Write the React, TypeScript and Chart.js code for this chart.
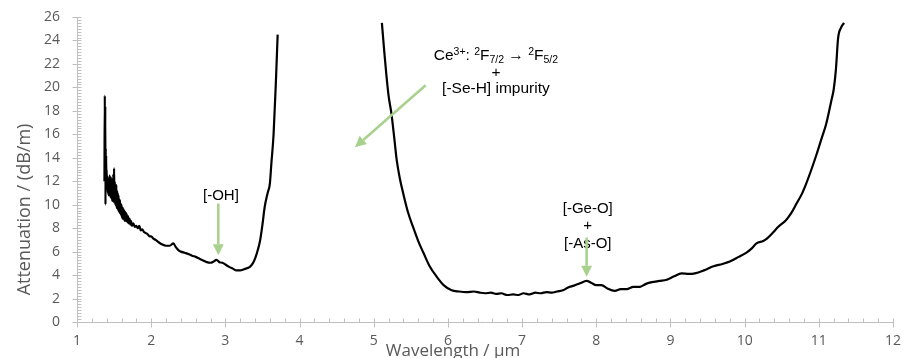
import React, { useEffect, useRef } from "react";
import { Chart, registerables } from "chart.js";

Chart.register(...registerables);

// ---- Data ----
const wavelength1 = [
  1.37, 1.375, 1.378, 1.381, 1.384, 1.387, 1.39, 1.393, 1.396, 1.4, 1.405, 1.41, 1.415, 1.42, 1.425,
  1.43, 1.435, 1.44, 1.445, 1.45, 1.455, 1.46, 1.465, 1.47, 1.475, 1.48, 1.485, 1.49, 1.495, 1.5,
  1.505, 1.51, 1.515, 1.52, 1.525, 1.53, 1.535, 1.54, 1.545, 1.55, 1.555, 1.56, 1.565, 1.57, 1.575,
  1.58, 1.585, 1.59, 1.595, 1.6, 1.605, 1.61, 1.615, 1.62, 1.625, 1.63, 1.635, 1.64, 1.645, 1.65,
  1.655, 1.66, 1.665, 1.67, 1.68, 1.69, 1.7, 1.71, 1.72, 1.73, 1.74, 1.76, 1.78, 1.8,
  1.82, 1.84, 1.86, 1.88, 1.9, 1.92, 1.95, 1.98, 2.0, 2.03, 2.06, 2.1, 2.15, 2.2,
  2.25, 2.3, 2.33, 2.37, 2.4, 2.45, 2.5, 2.55, 2.6, 2.65, 2.7, 2.75, 2.8, 2.84, 2.88, 2.92, 2.96,
  3.0, 3.05, 3.1, 3.15, 3.2, 3.25, 3.3, 3.33, 3.37, 3.4, 3.44, 3.47, 3.5, 3.53, 3.57, 3.6, 3.62,
  3.65, 3.68, 3.705,
];
const attenuation1 = [
  12.0, 19.3, 12.4, 18.4, 10.0, 14.8, 11.6, 14.2, 11.9, 13.0, 11.3, 12.4, 11.0, 12.2, 10.8,
  12.0, 10.9, 12.5, 10.7, 12.1, 10.6, 12.3, 10.5, 11.9, 10.3, 12.2, 10.4, 12.6, 10.2, 13.1,
  10.4, 12.0, 10.0, 11.6, 9.9, 11.7, 9.7, 11.2, 9.8, 11.0, 9.5, 10.8, 9.4, 10.5, 9.3,
  10.4, 9.2, 10.1, 9.1, 10.0, 8.9, 9.8, 8.8, 9.7, 8.9, 9.6, 8.7, 9.5, 8.6, 9.4,
  8.7, 9.3, 8.6, 9.2, 8.5, 9.0, 8.4, 8.8, 8.3, 8.6, 8.2, 8.4, 8.1, 8.2,
  8.0, 8.2, 7.8, 7.9, 7.7, 7.6, 7.5, 7.3, 7.3, 7.1, 7.0, 6.8, 6.6, 6.5,
  6.5, 6.7, 6.4, 6.1, 6.0, 5.9, 5.8, 5.65, 5.55, 5.4, 5.25, 5.1, 5.05, 5.15, 5.3, 5.1, 5.05,
  4.9, 4.7, 4.55, 4.4, 4.4, 4.5, 4.6, 4.7, 5.0, 5.4, 6.2, 7.0, 8.3, 9.8, 11.0, 11.8, 13.5,
  16.0, 20.3, 24.5,
];
const wavelength2 = [
  5.11, 5.14, 5.17, 5.2, 5.24, 5.28, 5.31, 5.35, 5.4, 5.46, 5.53, 5.6, 5.67, 5.75, 5.85, 5.95,
  6.05, 6.15, 6.25, 6.35, 6.43, 6.5, 6.58, 6.65, 6.72, 6.8, 6.88, 6.95, 7.02, 7.1, 7.18, 7.25,
  7.33, 7.4, 7.47, 7.55, 7.62, 7.7, 7.78, 7.87, 7.93, 8.0, 8.07, 8.15, 8.25, 8.33, 8.41, 8.5,
  8.59, 8.67, 8.75, 8.85, 8.95, 9.05, 9.15, 9.25, 9.33, 9.45, 9.58, 9.7, 9.8, 9.92, 10.02, 10.1,
  10.16, 10.25, 10.3, 10.38, 10.45, 10.56, 10.63, 10.7, 10.77, 10.83, 10.9, 10.97, 11.04, 11.1,
  11.17, 11.2, 11.23, 11.26, 11.3, 11.34,
];
const attenuation2 = [
  25.5, 23.2, 21.1, 19.3, 17.7, 15.5, 13.8, 12.3, 10.9, 9.4, 8.1, 6.9, 5.9, 4.8, 3.85, 3.1,
  2.7, 2.6, 2.55, 2.6, 2.5, 2.45, 2.5, 2.4, 2.45, 2.3, 2.35, 2.3, 2.45, 2.35, 2.5, 2.45,
  2.55, 2.5, 2.6, 2.7, 2.95, 3.1, 3.3, 3.5, 3.35, 3.15, 3.15, 2.85, 2.65, 2.8, 2.8, 3.0,
  3.0, 3.25, 3.4, 3.5, 3.6, 3.9, 4.15, 4.1, 4.15, 4.4, 4.75, 4.95, 5.15, 5.55, 5.9, 6.3,
  6.7, 6.9, 7.1, 7.6, 8.1, 8.7, 9.3, 10.1, 10.9, 11.8, 13.0, 14.3, 15.7, 16.9,
  18.9, 19.8, 21.5, 24.2, 25.1, 25.5,
];
const xTickValues = [1, 2, 3, 4, 5, 6, 7, 8, 9, 10, 11, 12];
const yTickValues = [0, 2, 4, 6, 8, 10, 12, 14, 16, 18, 20, 22, 24, 26];
const xAxisTitle = "Wavelength / μm";
const yAxisTitle = "Attenuation / (dB/m)";

const ohLabel = ["[-OH]"];
const geLabel = ["[-Ge-O]", "+", "[-As-O]"];
const ceLabelRest = ["+", "[-Se-H] impurity"];

const AXIS_GRAY = "#bfbfbf";
const TEXT_GRAY = "#595959";
const ARROW_GREEN = "#a9d18e";
const ANN_FONT = "15px 'Liberation Sans', Arial, sans-serif";
const CE_FONT = "15.5px 'Liberation Sans', Arial, sans-serif";
const CE_SMALL = "10.5px 'Liberation Sans', Arial, sans-serif";

function drawArrow(ctx: CanvasRenderingContext2D, x1: number, y1: number, x2: number, y2: number) {
  const ang = Math.atan2(y2 - y1, x2 - x1);
  const headLen = 11;
  const headHalf = 5.5;
  const bx = x2 - headLen * Math.cos(ang);
  const by = y2 - headLen * Math.sin(ang);
  ctx.save();
  ctx.strokeStyle = ARROW_GREEN;
  ctx.fillStyle = ARROW_GREEN;
  ctx.lineWidth = 2.5;
  ctx.beginPath();
  ctx.moveTo(x1, y1);
  ctx.lineTo(bx, by);
  ctx.stroke();
  ctx.beginPath();
  ctx.moveTo(x2, y2);
  ctx.lineTo(bx + headHalf * Math.sin(ang), by - headHalf * Math.cos(ang));
  ctx.lineTo(bx - headHalf * Math.sin(ang), by + headHalf * Math.cos(ang));
  ctx.closePath();
  ctx.fill();
  ctx.restore();
}

const decorPlugin = {
  id: "decor",
  afterDraw(chart: any) {
    const ctx: CanvasRenderingContext2D = chart.ctx;
    const xs = chart.scales.x;
    const ys = chart.scales.y;
    const area = chart.chartArea;
    const ax = Math.round(area.left) + 0.5;
    const ay = Math.round(area.bottom) + 0.5;

    // ---- tick marks ----
    ctx.save();
    ctx.strokeStyle = AXIS_GRAY;
    ctx.lineWidth = 1;
    ctx.beginPath();
    for (let i = 0; i <= 26 * 4; i++) {
      const v = i / 4;
      const py = Math.round(ys.getPixelForValue(v)) + 0.5;
      const major = i % 8 === 0;
      ctx.moveTo(major ? ax - 5 : ax, py);
      ctx.lineTo(ax + 4, py);
    }
    for (let i = 0; i <= 55; i++) {
      const v = 1 + i / 5;
      const px = Math.round(xs.getPixelForValue(v)) + 0.5;
      const major = i % 5 === 0;
      ctx.moveTo(px, ay - 4);
      ctx.lineTo(px, major ? ay + 5 : ay);
    }
    ctx.stroke();
    ctx.restore();

    // ---- axis titles ----
    ctx.save();
    ctx.fillStyle = TEXT_GRAY;
    ctx.font = "17px 'Open Sans', sans-serif";
    ctx.textAlign = "center";
    ctx.textBaseline = "alphabetic";
    ctx.fillText(xAxisTitle, (area.left + area.right) / 2 - 32, area.bottom + 34);
    ctx.font = "18px 'Open Sans', sans-serif";
    ctx.translate(25, (area.top + area.bottom) / 2 + 40);
    ctx.rotate(-Math.PI / 2);
    ctx.textBaseline = "middle";
    ctx.fillText(yAxisTitle, 0, 0);
    ctx.restore();

    // ---- annotations ----
    const X = (v: number) => xs.getPixelForValue(v);
    const Y = (v: number) => ys.getPixelForValue(v);
    ctx.save();
    ctx.fillStyle = "#000";
    ctx.font = ANN_FONT;
    ctx.textAlign = "center";
    ctx.textBaseline = "alphabetic";

    // [-OH]
    ctx.fillText(ohLabel[0], X(2.94), Y(10.4));
    drawArrow(ctx, X(2.905), Y(10.1), X(2.905), Y(5.7));

    // [-Ge-O] + [-As-O]
    ctx.fillText(geLabel[0], X(7.885), Y(9.3));
    ctx.fillText(geLabel[1], X(7.885), Y(7.83));
    ctx.fillText(geLabel[2], X(7.885), Y(6.34));
    drawArrow(ctx, X(7.87), Y(7.2), X(7.87), Y(3.85));

    // Ce3+ line with super/subscripts
    const runs: { t: string; k?: "sup" | "sub" }[] = [
      { t: "Ce" }, { t: "3+", k: "sup" }, { t: ": " }, { t: "2", k: "sup" }, { t: "F" },
      { t: "7/2", k: "sub" }, { t: " → " }, { t: "2", k: "sup" }, { t: "F" }, { t: "5/2", k: "sub" },
    ];
    let total = 0;
    const widths = runs.map((r) => {
      ctx.font = r.k ? CE_SMALL : CE_FONT;
      const w = ctx.measureText(r.t).width;
      total += w;
      return w;
    });
    const cx = X(6.647);
    const base = Y(22.3);
    let x = cx - total / 2;
    ctx.textAlign = "left";
    runs.forEach((r, i) => {
      ctx.font = r.k ? CE_SMALL : CE_FONT;
      const dy = r.k === "sup" ? -5 : r.k === "sub" ? 3 : 0;
      ctx.fillText(r.t, x, base + dy);
      x += widths[i];
    });
    ctx.font = CE_FONT;
    ctx.textAlign = "center";
    ctx.fillText(ceLabelRest[0], cx, Y(20.9));
    ctx.fillText(ceLabelRest[1], cx, Y(19.5));
    drawArrow(ctx, X(5.7), Y(20.18), X(4.747), Y(14.9));
    ctx.restore();
  },
};

export default function App() {
  const ref = useRef<HTMLCanvasElement | null>(null);
  useEffect(() => {
    if (!ref.current) return;
    const tickFont = { family: "'Open Sans', sans-serif", size: 14 };
    const chart = new Chart(ref.current, {
      type: "line",
      data: {
        datasets: [
          {
            data: wavelength1.map((x, i) => ({ x, y: attenuation1[i] })),
            borderColor: "#000",
            borderWidth: 2.2,
            pointRadius: 0,
            cubicInterpolationMode: "monotone",
          },
          {
            data: wavelength2.map((x, i) => ({ x, y: attenuation2[i] })),
            borderColor: "#000",
            borderWidth: 2.2,
            pointRadius: 0,
            cubicInterpolationMode: "monotone",
          },
        ],
      },
      options: {
        animation: false,
        responsive: false,
        layout: { autoPadding: false, padding: { top: 17, right: 10, left: 0, bottom: 0 } },
        plugins: { legend: { display: false }, tooltip: { enabled: false } },
        scales: {
          x: {
            type: "linear",
            min: 1,
            max: 12,
            afterBuildTicks: (s: any) => {
              s.ticks = xTickValues.map((v) => ({ value: v }));
            },
            afterFit: (s: any) => {
              s.height = 36;
              s.paddingLeft = 0;
              s.paddingRight = 0;
            },
            grid: { display: false, drawTicks: false },
            border: { color: AXIS_GRAY, width: 1 },
            ticks: { padding: 11, font: tickFont, color: TEXT_GRAY, maxRotation: 0, autoSkip: false },
          },
          y: {
            type: "linear",
            min: 0,
            max: 26,
            afterBuildTicks: (s: any) => {
              s.ticks = yTickValues.map((v) => ({ value: v }));
            },
            afterFit: (s: any) => {
              s.width = 77;
              s.paddingTop = 0;
              s.paddingBottom = 0;
            },
            grid: { display: false, drawTicks: false },
            border: { color: AXIS_GRAY, width: 1 },
            ticks: { padding: 17, font: tickFont, color: TEXT_GRAY, autoSkip: false },
          },
        },
      } as any,
      plugins: [decorPlugin],
    });
    return () => chart.destroy();
  }, []);
  return (
    <div style={{ position: "fixed", left: 0, top: 0, width: 903, height: 358, background: "#fff" }}>
      <canvas ref={ref} width={903} height={358} />
    </div>
  );
}
